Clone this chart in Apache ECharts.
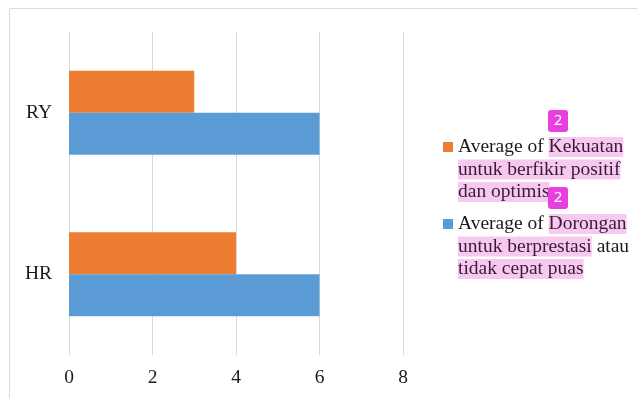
<!DOCTYPE html>
<html>
<head>
<meta charset="utf-8">
<style>
  html, body { margin: 0; padding: 0; background: #ffffff; }
  #chart { width: 637px; height: 398px; }
</style>
<script src="https://cdn.jsdelivr.net/npm/echarts@6/dist/echarts.min.js"></script>
</head>
<body>
<div id="chart"></div>
<script>
// Groups on the category axis (bottom to top)
const categories = ['HR', 'RY'];
// Average scores per group
const kekuatanValues = [4, 3];
const doronganValues = [6, 6];
// Value axis ticks
const xTicks = [0, 2, 4, 6, 8];

const seriesNames = [
  'Average of Kekuatan untuk berfikir positif dan optimis',
  'Average of Dorongan untuk berprestasi atau tidak cepat puas'
];

// Legend labels, split into lines with highlighted phrases
const legendRich = {};
legendRich[seriesNames[0]] = '{n|Average of }{h|Kekuatan}\n{h|untuk berfikir positif}\n{h|dan optimis}';
legendRich[seriesNames[1]] = '{n|Average of }{h|Dorongan}\n{h|untuk berprestasi}{n| atau}\n{h|tidak cepat puas}';

const serif = 'Liberation Serif, Times New Roman, serif';
const fs = 19.5;
const hl = '#f7c9f1';

const chart = echarts.init(document.getElementById('chart'), null, { renderer: 'canvas' });

function badge(x, y) {
  return {
    type: 'group',
    left: x,
    top: y,
    z: 100,
    children: [
      { type: 'rect', z: 100, shape: { x: 0, y: 0, width: 20, height: 22, r: 3 }, style: { fill: '#e83fe0' } },
      { type: 'text', z: 101, style: { x: 10, y: 11, text: '2', fill: '#ffffff', font: '15px Noto Sans, sans-serif', align: 'center', verticalAlign: 'middle' } }
    ]
  };
}

chart.setOption({
  backgroundColor: '#ffffff',
  animation: false,
  grid: { left: 69, right: 234, top: 32, bottom: 43, containLabel: false },
  xAxis: {
    type: 'value',
    min: xTicks[0],
    max: xTicks[xTicks.length - 1],
    interval: 2,
    axisLine: { show: false },
    axisTick: { show: false },
    splitLine: { show: true, lineStyle: { color: '#d9d9d9', width: 1 } },
    axisLabel: { color: '#1a1a1a', fontFamily: serif, fontSize: fs, margin: 13 }
  },
  yAxis: {
    type: 'category',
    data: categories,
    axisLine: { show: false },
    axisTick: { show: false },
    splitLine: { show: false },
    axisLabel: { color: '#1a1a1a', fontFamily: serif, fontSize: fs, margin: 17 }
  },
  legend: {
    orient: 'vertical',
    left: 443,
    top: 137,
    padding: 0,
    itemWidth: 10,
    itemHeight: 10,
    itemGap: 12,
    icon: 'rect',
    data: seriesNames,
    formatter: function (name) { return legendRich[name]; },
    textStyle: {
      fontFamily: serif,
      fontSize: fs,
      color: '#1a1a1a',
      padding: [45, 0, 0, 0],
      rich: {
        n: { fontFamily: serif, fontSize: fs, color: '#1a1a1a', lineHeight: 22.5 },
        h: { fontFamily: serif, fontSize: fs, color: '#3a1a36', lineHeight: 22.5, backgroundColor: hl }
      }
    }
  },
  series: [
    {
      name: seriesNames[0],
      type: 'bar',
      data: kekuatanValues,
      barGap: '0%',
      barCategoryGap: '48%',
      itemStyle: { color: '#ED7D31' }
    },
    {
      name: seriesNames[1],
      type: 'bar',
      data: doronganValues,
      barGap: '0%',
      barCategoryGap: '48%',
      itemStyle: { color: '#5B9BD5' }
    }
  ],
  graphic: [
    {
      type: 'rect',
      shape: { x: 9.5, y: 8.5, width: 700, height: 500 },
      style: { fill: 'none', stroke: '#d9d9d9', lineWidth: 1 },
      silent: true
    },
    badge(548, 110),
    badge(548, 187)
  ]
});
</script>
</body>
</html>
